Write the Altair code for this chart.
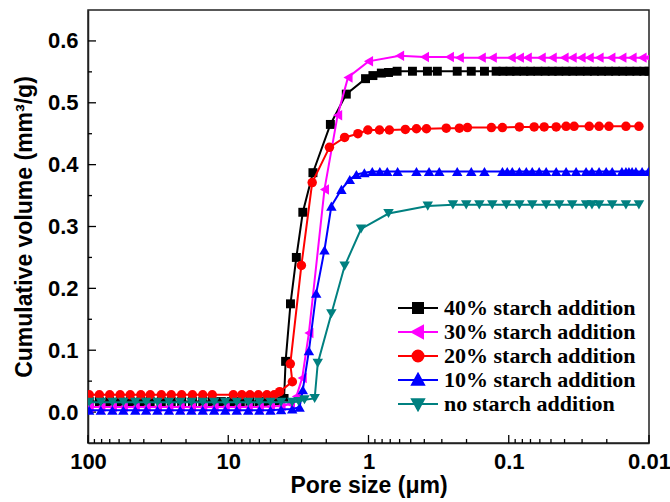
import altair as alt
import pandas as pd

SERIES = ["40% starch addition", "30% starch addition", "20% starch addition",
          "10% starch addition", "no starch addition"]
COLORS = ["#000000", "#ff00ff", "#ff0000", "#0000ff", "#008080"]
SHAPES = ["square", "triangle-left", "circle", "triangle-up", "triangle-down"]

# pore size (um) and cumulative intruded volume (mm3/g) for each sample
d40 = [98, 83, 70, 59, 50, 42, 36, 30, 25.5, 21.5, 18, 15.2, 13, 11.2, 9.5, 8.2, 7.0, 6.0, 5.2, 4.5, 4.0,
       3.9, 3.6, 3.27, 2.94, 2.49, 1.87, 1.44, 1.05, 0.93, 0.81, 0.72, 0.625,
       0.486, 0.380, 0.323, 0.233, 0.185, 0.149, 0.123, 0.110, 0.098, 0.088, 0.078, 0.070, 0.062,
       0.055, 0.049, 0.044, 0.039, 0.035, 0.031, 0.0275, 0.0245, 0.0218, 0.0194, 0.0173, 0.0154,
       0.0137, 0.0122, 0.0109, 0.0100]
v40 = [0.017, 0.017, 0.017, 0.017, 0.017, 0.017, 0.017, 0.017, 0.017, 0.017, 0.017, 0.017, 0.017,
       0.017, 0.017, 0.017, 0.017, 0.017, 0.017, 0.018, 0.022,
       0.082, 0.175, 0.250, 0.323, 0.387, 0.465, 0.514, 0.539, 0.544, 0.548, 0.549, 0.551,
       0.551, 0.551, 0.551, 0.551, 0.551, 0.551, 0.551, 0.551, 0.551, 0.551, 0.551, 0.551, 0.551,
       0.551, 0.551, 0.551, 0.551, 0.551, 0.551, 0.551, 0.551, 0.551, 0.551, 0.551, 0.551,
       0.551, 0.551, 0.551, 0.551]

d30 = [98, 81, 67, 56, 46, 38.5, 32, 26.5, 22, 18.3, 15.2, 12.6, 10.5, 8.7, 7.2, 6.0, 5.0, 4.2, 3.6,
       3.27, 2.97, 2.66, 2.06, 1.66, 1.40, 1.00, 0.60,
       0.399, 0.265, 0.225, 0.157, 0.131, 0.096, 0.084, 0.0738, 0.0587, 0.049, 0.0403, 0.0353,
       0.0305, 0.0267, 0.0227, 0.0187, 0.0156, 0.0132, 0.0112, 0.0101]
v30 = [0.008, 0.008, 0.008, 0.008, 0.008, 0.008, 0.008, 0.008, 0.008, 0.008, 0.008, 0.008, 0.008,
       0.008, 0.008, 0.008, 0.009, 0.010, 0.013,
       0.025, 0.055, 0.128, 0.360, 0.480, 0.541, 0.567, 0.576,
       0.574, 0.574, 0.573, 0.573, 0.573, 0.573, 0.573, 0.573, 0.573, 0.573, 0.573, 0.573,
       0.573, 0.573, 0.573, 0.573, 0.573, 0.573, 0.573, 0.573]

d20 = [98, 83, 70, 59, 50, 42, 36, 30, 25.5, 21.5, 18, 15.2, 13.0, 9.2, 8.0, 7.0, 6.1, 5.3, 4.7, 4.3,
       3.49, 3.61, 3.01, 2.52, 1.90, 1.48, 1.19, 1.01, 0.835, 0.71, 0.546,
       0.455, 0.386, 0.279, 0.225, 0.197, 0.133, 0.111, 0.084, 0.0659, 0.0559, 0.0459, 0.039,
       0.0342, 0.0267, 0.0227, 0.0193, 0.0146, 0.0118]
v20 = [0.028, 0.028, 0.028, 0.028, 0.028, 0.028, 0.028, 0.028, 0.028, 0.028, 0.028, 0.028, 0.028,
       0.028, 0.028, 0.028, 0.028, 0.028, 0.028, 0.033,
       0.049, 0.078, 0.237, 0.371, 0.428, 0.444, 0.450, 0.456, 0.456, 0.456, 0.457,
       0.458, 0.458, 0.459, 0.459, 0.460, 0.460, 0.460, 0.461, 0.461, 0.461, 0.461, 0.462,
       0.462, 0.462, 0.462, 0.462, 0.462, 0.462]

d10 = [98, 81, 67, 56, 46, 38.5, 32, 26.5, 22, 18.3, 15.2, 12.6, 10.5, 8.7, 7.2, 6.0, 5.0, 4.2, 3.5, 3.1,
       2.94, 2.66, 2.36, 2.06, 1.84, 1.56, 1.36, 1.22, 1.07, 0.94, 0.83, 0.735, 0.62,
       0.455, 0.370, 0.313, 0.233, 0.185, 0.149, 0.111, 0.1025, 0.0944, 0.084, 0.075, 0.068,
       0.0607, 0.0541, 0.0459, 0.039, 0.0331, 0.0281, 0.0255, 0.0227, 0.0202, 0.0183, 0.0156,
       0.0146, 0.0139, 0.0132, 0.0124, 0.0112, 0.0101]
v10 = [0.003, 0.003, 0.003, 0.003, 0.003, 0.003, 0.003, 0.003, 0.003, 0.003, 0.003, 0.003, 0.003,
       0.003, 0.003, 0.003, 0.003, 0.004, 0.005, 0.008,
       0.036, 0.099, 0.192, 0.262, 0.333, 0.360, 0.376, 0.384, 0.387, 0.389, 0.389, 0.389, 0.389,
       0.389, 0.389, 0.389, 0.389, 0.389, 0.389, 0.389, 0.389, 0.389, 0.389, 0.389, 0.389,
       0.389, 0.389, 0.389, 0.389, 0.389, 0.389, 0.389, 0.389, 0.389, 0.389, 0.389,
       0.389, 0.389, 0.389, 0.389, 0.389, 0.389]

d00 = [98, 81, 67, 56, 46, 38.5, 32, 26.5, 22, 18.3, 15.2, 12.6, 10.5, 8.7, 7.2, 6.0, 5.0, 4.2, 3.5,
       3.15, 2.86, 2.42, 2.30, 1.84, 1.48, 1.13, 0.72, 0.378, 0.25,
       0.201, 0.162, 0.131, 0.104, 0.084, 0.068, 0.0541, 0.0437, 0.0353, 0.0281, 0.0255, 0.0227,
       0.0183, 0.0146, 0.0118]
v00 = [0.016, 0.016, 0.016, 0.016, 0.016, 0.016, 0.016, 0.016, 0.016, 0.016, 0.016, 0.016, 0.016,
       0.016, 0.016, 0.016, 0.016, 0.016, 0.016,
       0.017, 0.020, 0.022, 0.079, 0.159, 0.236, 0.296, 0.321, 0.333, 0.335,
       0.335, 0.335, 0.335, 0.335, 0.335, 0.335, 0.335, 0.335, 0.335, 0.335, 0.335, 0.335,
       0.335, 0.335, 0.335]

# axis ticks
Y_MAJOR = [0.0, 0.1, 0.2, 0.3, 0.4, 0.5, 0.6]
Y_MINOR = [0.05, 0.15, 0.25, 0.35, 0.45, 0.55]
X_MAJOR = [100, 10, 1, 0.1, 0.01]
X_MINOR = [90, 80, 70, 60, 50, 40, 30, 20,
           9, 8, 7, 6, 5, 4, 3, 2,
           0.9, 0.8, 0.7, 0.6, 0.5, 0.4, 0.3, 0.2,
           0.09, 0.08, 0.07, 0.06, 0.05, 0.04, 0.03, 0.02]

series_data = [(d40, v40), (d30, v30), (d20, v20), (d10, v10), (d00, v00)]
rows = []
for name, (ds, vs) in zip(SERIES, series_data):
    for i, (d, v) in enumerate(zip(ds, vs)):
        rows.append({"series": name, "i": i, "d": d, "v": v})
df = pd.DataFrame(rows)

W, H = 561, 433
SANS = "Liberation Sans"
SERIF = "Liberation Serif"

xscale = alt.Scale(type="log", domain=[0.01, 100], reverse=True, nice=False)
yscale = alt.Scale(domain=[-0.05, 0.65], nice=False, zero=False)

X = alt.X("d:Q", scale=xscale,
          axis=alt.Axis(title="Pore size (\u03bcm)", values=X_MAJOR, format="~g", ticks=False,
                        grid=False, labelFlush=False, labelOverlap=False, labelPadding=8,
                        titlePadding=2))
Y = alt.Y("v:Q", scale=yscale,
          axis=alt.Axis(title="Cumulative volume (mm\u00b3/g)", values=Y_MAJOR, format=".1f",
                        ticks=False, grid=False, labelPadding=10, titlePadding=11))

# legend symbols: a short line segment through the marker
LINE = "M-4,0H4"
MARKS = {
    "square": "M-1,-1H1V1H-1Z",
    "triangle-left": "M-1.2,0L1,-1.2L1,1.2Z",
    "circle": "M-1.1,0A1.1,1.1,0,1,0,1.1,0A1.1,1.1,0,1,0,-1.1,0Z",
    "triangle-up": "M0,-1.25L1.2,0.95L-1.2,0.95Z",
    "triangle-down": "M0,1.25L1.2,-0.95L-1.2,-0.95Z",
}
LEGEND_PATHS = [LINE + MARKS[s] for s in SHAPES]

base = alt.Chart(df)
layers = []
for name, col, shp in zip(SERIES, COLORS, SHAPES):
    sub = base.transform_filter(alt.datum.series == name)
    line = sub.mark_line(color=col, strokeWidth=2, clip=True).encode(x=X, y=Y, order="i:Q")
    size = 90 if shp == "circle" else (80 if shp == "square" else 110)
    pts = sub.mark_point(filled=True, opacity=1, size=size, clip=True, color=col, shape=shp).encode(
        x=X, y=Y)
    layers += [line, pts]

# legend carrier: no marks drawn, only the key built from the series scales
legend = alt.Legend(
    title=None, orient="none", legendX=319, legendY=287, padding=0,
    labelFont=SERIF, labelFontWeight="bold", labelFontSize=22, labelColor="black",
    labelLimit=0, labelOffset=15, rowPadding=2, symbolSize=100, symbolStrokeWidth=2,
    symbolOpacity=1,
)
key = base.transform_filter("false").mark_point(filled=True, size=100, strokeWidth=2).encode(
    x=X, y=Y,
    fill=alt.Fill("series:N", scale=alt.Scale(domain=SERIES, range=COLORS), legend=legend),
    stroke=alt.Stroke("series:N", scale=alt.Scale(domain=SERIES, range=COLORS), legend=legend),
    shape=alt.Shape("series:N", scale=alt.Scale(domain=SERIES, range=LEGEND_PATHS), legend=legend),
)

ymaj = alt.Chart(pd.DataFrame({"v": Y_MAJOR})).mark_rule(color="black", strokeWidth=1.3).encode(
    y=Y, x=alt.value(0), x2=alt.value(8))
ymin = alt.Chart(pd.DataFrame({"v": Y_MINOR})).mark_rule(color="black", strokeWidth=1.3).encode(
    y=Y, x=alt.value(0), x2=alt.value(4))
xmaj = alt.Chart(pd.DataFrame({"d": X_MAJOR})).mark_rule(color="black", strokeWidth=1.3).encode(
    x=X, y=alt.value(H), y2=alt.value(H - 8))
xmin = alt.Chart(pd.DataFrame({"d": X_MINOR})).mark_rule(color="black", strokeWidth=1.3).encode(
    x=X, y=alt.value(H), y2=alt.value(H - 4))

chart = alt.layer(ymaj, ymin, xmaj, xmin, *layers, key).properties(
    width=W, height=H,
    padding={"left": 88, "top": 10, "right": 21, "bottom": 59},
    autosize=alt.AutoSizeParams(type="none"),
    background="white",
).configure_view(
    stroke="#222222", strokeWidth=1.5
).configure_axis(
    domainColor="#222222", domainWidth=1.5,
    labelFont=SANS, labelFontWeight="bold", labelFontSize=22, labelColor="black",
    titleFont=SANS, titleFontWeight="bold", titleFontSize=23, titleColor="black",
)

chart.save("out.html", embed_options={"renderer": "svg", "actions": False})
